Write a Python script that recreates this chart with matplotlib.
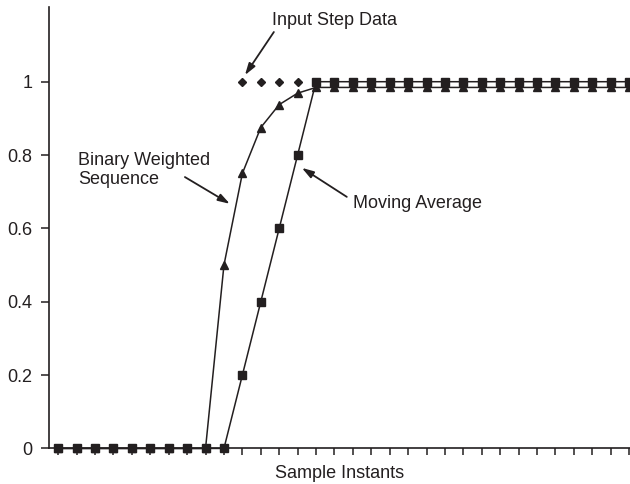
import numpy as np
import matplotlib
matplotlib.use("Agg")
import matplotlib.pyplot as plt

plt.rcParams['font.family'] = ['Liberation Sans', 'DejaVu Sans']

# 32 sample instants
samples = np.arange(32)
input_step = [0] * 10 + [1] * 22
binary_weighted = [0] * 9 + [0.5, 0.75, 0.875, 0.9375, 0.96875] + [0.984375] * 18
moving_average = [0] * 10 + [0.2, 0.4, 0.6, 0.8] + [1] * 18

yticks = [0, 0.2, 0.4, 0.6, 0.8, 1]
ytick_labels = ["0", "0.2", "0.4", "0.6", "0.8", "1"]

ink = "#231f20"

fig = plt.figure(figsize=(6.3, 4.84), dpi=100)
ax = fig.add_axes([0.0778, 0.0735, 0.9222, 0.9115])

ax.plot(samples, binary_weighted, color=ink, lw=1.1, marker="^", ms=5.5, clip_on=False, zorder=3)
ax.plot(samples, moving_average, color=ink, lw=1.1, marker="s", ms=5.4, clip_on=False, zorder=3)
ax.plot(samples, input_step, color=ink, lw=0, marker="D", ms=4, clip_on=False, zorder=4)

ax.set_xlim(-0.5, 31.05)
ax.set_ylim(0, 1.203)
ax.set_xticks(samples)
ax.set_xticklabels([])
ax.set_yticks(yticks)
ax.set_yticklabels(ytick_labels)
ax.tick_params(axis="both", direction="out", width=1.1, color=ink,
               labelsize=13, labelcolor=ink)
ax.tick_params(axis="y", length=5.8, pad=6)
ax.tick_params(axis="x", length=5.2)

for side in ["top", "right"]:
    ax.spines[side].set_visible(False)
for side in ["left", "bottom"]:
    ax.spines[side].set_linewidth(1.2)
    ax.spines[side].set_color(ink)

ax.set_xlabel("Sample Instants", fontsize=13, color=ink, labelpad=3)

arrow = dict(arrowstyle="-|>,head_width=0.22,head_length=0.7", color=ink, lw=1.3,
             shrinkA=0, shrinkB=0)

ax.annotate("", xy=(10.14, 1.018), xytext=(11.71, 1.1355), arrowprops=arrow)
ax.text(11.62, 1.168, "Input Step Data", fontsize=13, color=ink, va="center", ha="left")

ax.annotate("", xy=(9.32, 0.667), xytext=(6.88, 0.740), arrowprops=arrow)
ax.text(1.07, 0.759, "Binary Weighted\nSequence", fontsize=13, color=ink,
        va="center", ha="left", linespacing=1.2)

ax.annotate("", xy=(13.23, 0.765), xytext=(15.67, 0.686), arrowprops=arrow)
ax.text(16.0, 0.669, "Moving Average", fontsize=13, color=ink, va="center", ha="left")

fig.savefig("out.png", dpi=100)
